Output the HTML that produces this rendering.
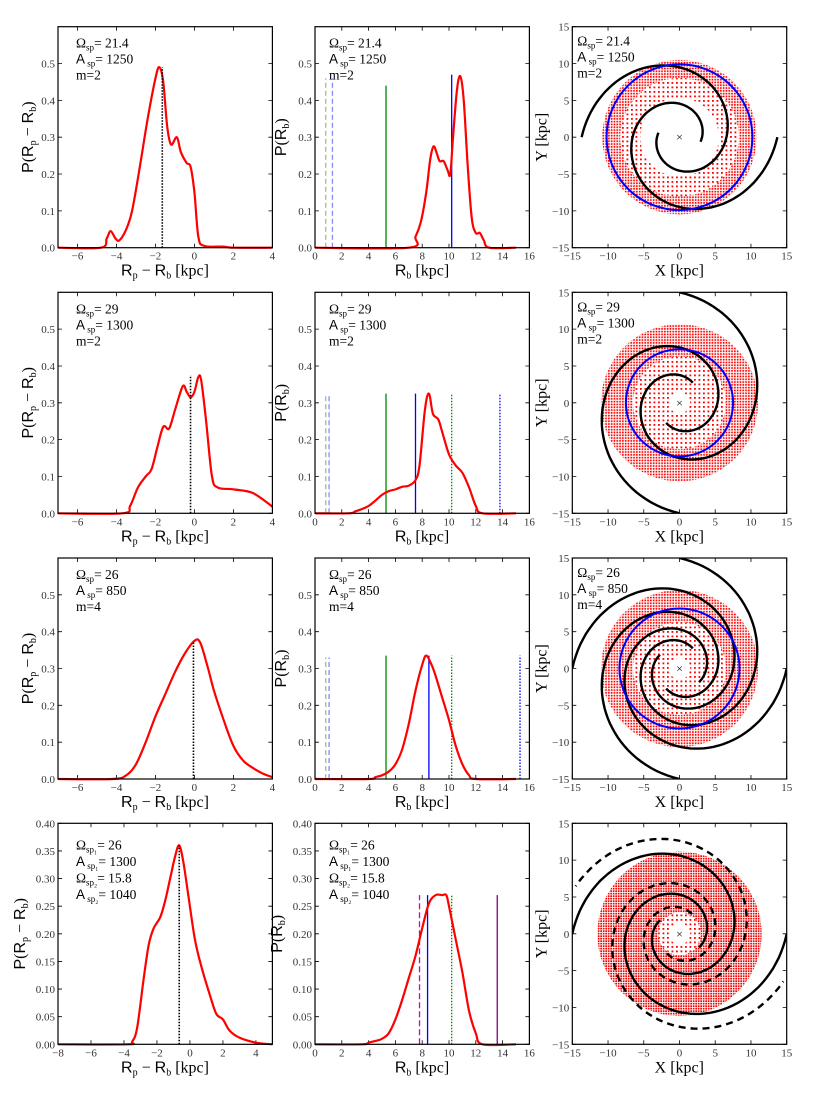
<!DOCTYPE html>
<html><head><meta charset="utf-8"><style>
body{margin:0;background:#fff}
svg text{font-family:"Liberation Serif",serif}
.sans{font-family:"Liberation Sans",sans-serif}
</style></head><body>
<svg id="fig" width="817" height="1090" xmlns="http://www.w3.org/2000/svg">
<defs>
<pattern id="dense" width="2.5" height="2.5" patternUnits="userSpaceOnUse"><rect x="0.3" y="0.3" width="1.7" height="1.7" fill="#f00"/></pattern>
<pattern id="mid" width="2.8" height="2.8" patternUnits="userSpaceOnUse"><rect x="0.4" y="0.4" width="1.7" height="1.7" fill="#f00"/></pattern>
<pattern id="sparse" width="4.5" height="4.5" patternUnits="userSpaceOnUse"><rect x="1" y="1" width="1.8" height="1.8" fill="#f00"/></pattern>
</defs>
</svg>
<script>
// ---- data ----
const c1r1x=[-7,-4.8,-4.5,-4.3,-4.05,-3.85,-3.5,-3.2,-2.8,-2.4,-2.0,-1.8,-1.6,-1.4,-1.2,-0.9,-0.7,-0.4,-0.2,0,0.2,0.5,1.5,2,4];
const c1r1y=[0,0,0.025,0.045,0.025,0.02,0.05,0.1,0.22,0.35,0.46,0.49,0.45,0.33,0.28,0.30,0.26,0.23,0.22,0.15,0.03,0.005,0.003,0,0];
const c1r2x=[-7,-3.7,-3.3,-2.9,-2.5,-2.2,-1.9,-1.6,-1.3,-1.0,-0.6,-0.4,-0.2,0.0,0.2,0.35,0.6,0.9,1.2,2,3,4];
const c1r2y=[0,0,0.02,0.07,0.1,0.12,0.18,0.235,0.23,0.28,0.345,0.33,0.315,0.33,0.37,0.36,0.25,0.1,0.07,0.065,0.055,0.018];
const c1r3x=[-7,-4.2,-3.5,-3,-2.5,-2,-1.5,-1,-0.5,0,0.3,0.7,1,1.5,2,2.5,3,3.5,4];
const c1r3y=[0,0,0.01,0.04,0.1,0.17,0.23,0.29,0.34,0.375,0.37,0.3,0.24,0.16,0.09,0.05,0.03,0.015,0.005];
const c1r4x=[-8,-3.8,-3.5,-3.2,-2.8,-2.5,-2.2,-1.8,-1.5,-1.2,-0.9,-0.65,-0.4,-0.1,0.3,0.7,1.2,1.6,2,2.4,3,4,5];
const c1r4y=[0,0,0.005,0.03,0.12,0.18,0.21,0.23,0.26,0.3,0.34,0.36,0.33,0.27,0.19,0.14,0.09,0.055,0.045,0.025,0.012,0.003,0];
const c1mark=[-1.65,-0.2,-0.05,-0.65];
const c1markH=[0.49,0.375,0.375,0.36];

const c2r1x=[0,7,7.5,7.9,8.3,8.6,8.85,9.1,9.3,9.6,9.9,10.1,10.3,10.6,10.85,11.1,11.4,11.7,12.0,12.3,12.6,13,15];
const c2r1y=[0,0,0.03,0.07,0.15,0.24,0.275,0.255,0.235,0.235,0.21,0.2,0.3,0.43,0.465,0.4,0.22,0.08,0.04,0.04,0.02,0,0];
const c2r2x=[0,2.5,3,4,5,5.5,6,6.5,7,7.5,7.8,8.2,8.5,8.8,9.2,9.5,10,10.5,11,11.5,12,12.5,15];
const c2r2y=[0,0,0.005,0.02,0.05,0.06,0.065,0.072,0.075,0.09,0.13,0.28,0.325,0.27,0.255,0.22,0.16,0.13,0.11,0.07,0.02,0,0];
const c2r3x=[0,4,4.5,5,5.5,6,6.5,7,7.5,8,8.3,8.7,9,9.5,10,10.5,11,11.5,12,15];
const c2r3y=[0,0,0.005,0.01,0.02,0.04,0.08,0.15,0.24,0.31,0.335,0.31,0.28,0.22,0.16,0.09,0.04,0.01,0,0];
const c2r4x=[0,3.5,4,4.5,5,5.5,6,6.5,7,7.5,8,8.5,9,9.5,9.8,10,10.5,11,11.5,12,12.5,15];
const c2r4y=[0,0,0.003,0.006,0.01,0.02,0.045,0.08,0.12,0.16,0.21,0.255,0.27,0.27,0.27,0.25,0.19,0.13,0.06,0.02,0,0];
// reference lines: position, height, colour, dash
const c2r1lines=[[0.8,0.46,'#8c8','5,3'],[1.3,0.46,'#88f','5,3'],[5.3,0.44,'#080',''],[10.2,0.47,'#00f','']];
const c2r2lines=[[0.8,0.325,'#8c8','5,3'],[1.05,0.325,'#88f','5,3'],[5.3,0.325,'#080',''],[7.5,0.325,'#00f',''],[10.2,0.325,'#080','1.5,1.5'],[13.8,0.325,'#00f','1.5,1.5']];
const c2r3lines=[[0.8,0.33,'#8c8','5,3'],[1.05,0.33,'#88f','5,3'],[5.3,0.335,'#080',''],[8.5,0.335,'#00f',''],[10.2,0.335,'#080','1.5,1.5'],[15.3,0.335,'#00f','1.5,1.5']];
const c2r4lines=[[7.8,0.27,'#c0c','6,3'],[8.4,0.27,'#00f',''],[10.2,0.27,'#080','1.5,1.5'],[13.6,0.27,'#808','']];

const ticks1=[-6,-4,-2,0,2,4], ticks1b=[-8,-6,-4,-2,0,2,4];
const ticks2=[0,2,4,6,8,10,12,14,16];
const ticks3=[-15,-10,-5,0,5,10,15];
const yt6=[0,0.1,0.2,0.3,0.4,0.5], yt4=[0,0.05,0.1,0.15,0.2,0.25,0.3,0.35,0.4];

const NS='http://www.w3.org/2000/svg';
const svg=document.getElementById('fig');
function el(tag,attrs,parent){const e=document.createElementNS(NS,tag);for(const k in attrs)e.setAttribute(k,attrs[k]);(parent||svg).appendChild(e);return e;}
const colX=[58,315,572.3], W=214.4, rowY=[26.7,292.3,558,823.3], H=221;
function fmt(v,d){return (v<0?'\u2212':'')+Math.abs(v).toFixed(d);}
function smooth(p){let d='M'+p[0][0]+','+p[0][1];for(let i=0;i<p.length-1;i++){const p0=p[i-1]||p[i],p1=p[i],p2=p[i+1],p3=p[i+2]||p2;
 d+=' C'+(p1[0]+(p2[0]-p0[0])/6)+','+(p1[1]+(p2[1]-p0[1])/6)+' '+(p2[0]-(p3[0]-p1[0])/6)+','+(p2[1]-(p3[1]-p1[1])/6)+' '+p2[0]+','+p2[1];}return d;}
function axes(g,x0,y0,xmin,xmax,ymin,ymax,xt,yt,yd,xd){
 const sx=v=>x0+(v-xmin)/(xmax-xmin)*W, sy=v=>y0+H-(v-ymin)/(ymax-ymin)*H;
 xt.forEach(t=>{const x=sx(t);
  const tk=el('path',{d:`M${x},${y0+H}v-4M${x},${y0}v4`,stroke:'#000','stroke-width':0.8},g);
  
  const tl=el('text',{x:x,y:y0+H+12,'text-anchor':'middle','font-size':11,fill:'#333'},g);tl.textContent=fmt(t,xd);
  });
 yt.forEach(t=>{const y=sy(t);
  const tk=el('path',{d:`M${x0},${y}h4M${x0+W},${y}h-4`,stroke:'#000','stroke-width':0.8},g);
  
  const tl=el('text',{x:x0-3,y:y+4,'text-anchor':'end','font-size':11,fill:'#333'},g);tl.textContent=fmt(t,yd);
  });
 return {sx,sy};
}
function frame(g,x0,y0){const f=el('rect',{x:x0,y:y0,width:W,height:H,fill:'none',stroke:'#000','stroke-width':1.2},g);
 }
function ann(g,x,y,lines,step){lines.forEach((l,i)=>{const t=el('text',{x:x,y:y+i*step,'font-size':13.5},g);t.innerHTML=l;
 });}
function sub(s){return `<tspan font-size="9" dy="3">${s}</tspan><tspan dy="-3">`;}
const annSets=[
 ['\u03A9'+sub('sp')+'= 21.4</tspan>','<tspan class="sans">A</tspan>'+sub(' sp')+'= 1250</tspan>','m=2'],
 ['\u03A9'+sub('sp')+'= 29</tspan>','<tspan class="sans">A</tspan>'+sub(' sp')+'= 1300</tspan>','m=2'],
 ['\u03A9'+sub('sp')+'= 26</tspan>','<tspan class="sans">A</tspan>'+sub(' sp')+'= 850</tspan>','m=4'],
 ['\u03A9'+sub('sp\u2081')+'= 26</tspan>','<tspan class="sans">A</tspan>'+sub(' sp\u2081')+'= 1300</tspan>','\u03A9'+sub('sp\u2082')+'= 15.8</tspan>','<tspan class="sans">A</tspan>'+sub(' sp\u2082')+'= 1040</tspan>']];
function label(g,x,y,html,rot){const t=el('text',{x:x,y:y,'text-anchor':'middle','font-size':16,transform:rot?`rotate(-90 ${x} ${y})`:''},g);t.innerHTML=html;return t;}

const c1x=[c1r1x,c1r2x,c1r3x,c1r4x], c1y=[c1r1y,c1r2y,c1r3y,c1r4y];
const c2x=[c2r1x,c2r2x,c2r3x,c2r4x], c2y=[c2r1y,c2r2y,c2r3y,c2r4y];
const c2lines=[c2r1lines,c2r2lines,c2r3lines,c2r4lines];

for(let r=0;r<4;r++){
 const y0=rowY[r], last=r===3;
 const yt=last?yt4:yt6, ymax=last?0.4:0.6, yd=last?2:1;
 // column 1
 let g=el('g',{});
 let a=axes(g,colX[0],y0,last?-8:-7,last?5:4,0,ymax,last?ticks1b:ticks1,yt,yd,0);
 let p=el('path',{d:smooth(c1x[r].map((v,i)=>[a.sx(v),a.sy(c1y[r][i])])),fill:'none',stroke:'#f00','stroke-width':2.2},g);
 
 let m=el('line',{x1:a.sx(c1mark[r]),x2:a.sx(c1mark[r]),y1:a.sy(0),y2:a.sy(c1markH[r]),stroke:'#000','stroke-width':1.6,'stroke-dasharray':'1.5,1.5'},g);
 
 frame(g,colX[0],y0);
 ann(g,colX[0]+18,y0+(last?26:21),annSets[r],last?16.5:16);
 let t=label(g,colX[0]+107,y0+H+28,'<tspan class="sans">R</tspan><tspan font-size="10" dy="3">p</tspan><tspan dy="-3"> \u2212 </tspan><tspan class="sans">R</tspan><tspan font-size="10" dy="3">b</tspan><tspan dy="-3"> [kpc]</tspan>');
 
 t=label(g,last?25:33,y0+H/2,'<tspan class="sans">P</tspan>(<tspan class="sans">R</tspan><tspan font-size="10" dy="3">p</tspan><tspan dy="-3"> \u2212 </tspan><tspan class="sans">R</tspan><tspan font-size="10" dy="3">b</tspan><tspan dy="-3">)</tspan>',true);
 
 // column 2
 g=el('g',{});
 a=axes(g,colX[1],y0,0,16,0,ymax,ticks2,yt,yd,0);
 c2lines[r].forEach(L=>{const ln=el('line',{x1:a.sx(L[0]),x2:a.sx(L[0]),y1:a.sy(0),y2:a.sy(L[1]),stroke:L[2],'stroke-width':1.3,'stroke-dasharray':L[3]},g);
  });
 p=el('path',{d:smooth(c2x[r].map((v,i)=>[a.sx(v),a.sy(c2y[r][i])])),fill:'none',stroke:'#f00','stroke-width':2.2},g);
 
 frame(g,colX[1],y0);
 ann(g,colX[1]+14,y0+(last?26:21),annSets[r],last?16.5:16);
 t=label(g,colX[1]+107,y0+H+28,'<tspan class="sans">R</tspan><tspan font-size="10" dy="3">b</tspan><tspan dy="-3"> [kpc]</tspan>');
 
 t=label(g,last?colX[1]-33:colX[1]-29,y0+H/2,'<tspan class="sans">P</tspan>(<tspan class="sans">R</tspan><tspan font-size="10" dy="3">b</tspan><tspan dy="-3">)</tspan>',true);
 
}

// ---- spiral panels ----
const spK=[0.234,0.22,0.22,0.22];
const spEnds=[[0,180],[270,90],[0,90,180,270],[0,180]];
const spROut=[13.7,15,15,15], spRIn=[3,3.3,3.3,3.3];
const dashEnds=[-24,156], dashK=0.2, dashROut=15.9, dashRIn=3.2;
const circR=[10.2,7.5,8.4,0];
const cloudRings=[[[8.3,10.8,'mid'],[5.5,8.3,'sparse']],[[6.5,11,'mid'],[1.5,6.5,'sparse']],[[6.5,11,'mid'],[1.5,6.5,'sparse']],[[3,11.5,'dense'],[1.5,3,'sparse']]];
for(let r=0;r<4;r++){
 const y0=rowY[r], x0=colX[2];
 const g=el('g',{});
 const a=axes(g,x0,y0,-15,15,-15,15,ticks3,ticks3,0,0);
 const cx=a.sx(0), cy=a.sy(0), s=W/30;
 const clip=el('clipPath',{id:'cl'+r},g);el('rect',{x:x0,y:y0,width:W,height:H},clip);
 const gi=el('g',{'clip-path':`url(#cl${r})`},g);
 cloudRings[r].forEach(R=>{const ro=R[1]*s, ri=R[0]*s;
  const c=el('path',{d:`M${cx-ro},${cy}a${ro},${ro} 0 1,0 ${2*ro},0a${ro},${ro} 0 1,0 ${-2*ro},0M${cx-ri},${cy}a${ri},${ri} 0 1,0 ${2*ri},0a${ri},${ri} 0 1,0 ${-2*ri},0`,fill:`url(#${R[2]})`,'fill-rule':'evenodd'},gi);
  });
 function arm(endDeg,k,rO,rI,dash){const te=endDeg*Math.PI/180, span=Math.log(rO/rI)/k, pts=[];
  for(let i=0;i<=120;i++){const th=te-span+span*i/120, rr=rO*Math.exp(k*(th-te));pts.push([a.sx(rr*Math.cos(th)),a.sy(rr*Math.sin(th))]);}
  const e=el('path',{d:'M'+pts.map(q=>q[0].toFixed(1)+','+q[1].toFixed(1)).join('L'),fill:'none',stroke:'#000','stroke-width':2.4,'stroke-dasharray':dash||''},gi);
  }
 spEnds[r].forEach(d=>arm(d,spK[r],spROut[r],spRIn[r]));
 if(r===3) dashEnds.forEach(d=>arm(d,dashK,dashROut,dashRIn,'7,5'));
 if(circR[r]){const c=el('circle',{cx:cx,cy:cy,r:circR[r]*s,fill:'none',stroke:'#00f','stroke-width':2},gi);
  }
 const x=el('text',{x:cx,y:cy+4,'text-anchor':'middle','font-size':12,'font-family':'Liberation Sans'},g);x.textContent='\u00D7';
 
 frame(g,x0,y0);
 if(r<3) ann(g,x0+5,y0+19,annSets[r],16);
 let t=label(g,x0+107,y0+H+28,'X [kpc]');
 t=label(g,x0-26,y0+H/2,'Y [kpc]',true);
}
</script>
</body></html>
